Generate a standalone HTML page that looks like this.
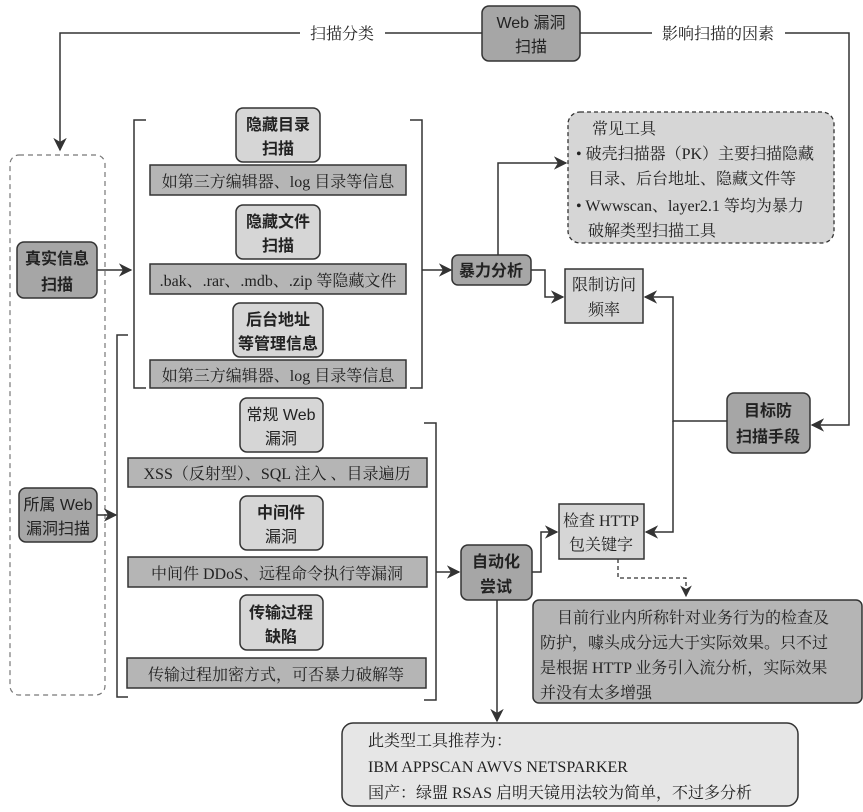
<!DOCTYPE html>
<html><head><meta charset="utf-8"><style>
body{margin:0;background:#fff}
svg{display:block}
.s{font-family:"Liberation Sans","Noto Sans CJK SC",sans-serif;font-size:16px;fill:#222}
.b{font-weight:bold}
.r{font-family:"Liberation Serif","Noto Serif CJK SC",serif;font-size:16px;fill:#222}
.ln{stroke:#333;stroke-width:1.5;fill:none}
.dk{fill:#a6a6a6;stroke:#333;stroke-width:1.5}
.lt{fill:#d6d6d6;stroke:#333;stroke-width:1.5}
.gr{fill:#b5b5b5;stroke:#333;stroke-width:1.5}
</style></head><body>
<svg width="863" height="812" viewBox="0 0 863 812" xmlns="http://www.w3.org/2000/svg">
<defs><marker id="a" viewBox="0 0 10 10" refX="9" refY="5" markerWidth="9" markerHeight="9" orient="auto"><path d="M0,0 L10,5 L0,10 L3,5 z" fill="#333"/></marker></defs>

<!-- top -->
<rect class="dk" x="482" y="6" width="98" height="55" rx="7"/>
<text class="s" x="531" y="28" text-anchor="middle">Web 漏洞</text>
<text class="s" x="531" y="52" text-anchor="middle">扫描</text>
<path class="ln" d="M482,33 H385 M300,33 H60 V150" marker-end="url(#a)"/>
<text class="r" x="342" y="39" text-anchor="middle">扫描分类</text>
<path class="ln" d="M580,33 H652 M785,33 H849 V425 H812" marker-end="url(#a)"/>
<text class="r" x="718" y="39" text-anchor="middle">影响扫描的因素</text>

<!-- dashed left -->
<rect x="10" y="155" width="95" height="540" rx="9" fill="none" stroke="#777" stroke-width="1.2" stroke-dasharray="5,4"/>
<rect class="dk" x="17" y="242" width="80" height="56" rx="7"/>
<text class="s b" x="57" y="264" text-anchor="middle">真实信息</text>
<text class="s b" x="57" y="290" text-anchor="middle">扫描</text>
<path class="ln" d="M97,270 H131" marker-end="url(#a)"/>
<rect class="dk" x="19" y="488" width="78" height="54" rx="7"/>
<text class="s" x="58" y="510" text-anchor="middle">所属 Web</text>
<text class="s" x="58" y="534" text-anchor="middle">漏洞扫描</text>
<path class="ln" d="M97,515 H116" marker-end="url(#a)"/>

<!-- bracket 1 -->
<path class="ln" d="M146,120 H134 V388 H146 M410,120 H422 V388 H410"/>
<rect class="lt" x="236" y="108" width="84" height="54" rx="7"/>
<text class="s b" x="278" y="130" text-anchor="middle">隐藏目录</text>
<text class="s b" x="278" y="154" text-anchor="middle">扫描</text>
<rect class="gr" x="150" y="165" width="256" height="30"/>
<text class="r" x="278" y="187" text-anchor="middle">如第三方编辑器、log 目录等信息</text>
<rect class="lt" x="236" y="205" width="84" height="54" rx="7"/>
<text class="s b" x="278" y="227" text-anchor="middle">隐藏文件</text>
<text class="s b" x="278" y="251" text-anchor="middle">扫描</text>
<rect class="gr" x="150" y="264" width="256" height="30"/>
<text class="r" x="278" y="286" text-anchor="middle">.bak、.rar、.mdb、.zip 等隐藏文件</text>
<rect class="lt" x="233" y="303" width="90" height="54" rx="7"/>
<text class="s b" x="278" y="325" text-anchor="middle">后台地址</text>
<text class="s b" x="278" y="349" text-anchor="middle">等管理信息</text>
<rect class="gr" x="150" y="360" width="256" height="28"/>
<text class="r" x="278" y="381" text-anchor="middle">如第三方编辑器、log 目录等信息</text>
<path class="ln" d="M422,270 H451" marker-end="url(#a)"/>

<!-- 暴力分析 -->
<rect class="dk" x="452" y="255" width="79" height="30" rx="6"/>
<text class="s b" x="491" y="276" text-anchor="middle">暴力分析</text>
<path class="ln" d="M498,255 V163 H566" marker-end="url(#a)"/>
<rect x="568" y="112" width="266" height="131" rx="12" fill="#d6d6d6" stroke="#333" stroke-width="1.3" stroke-dasharray="4,3"/>
<text class="r" x="592" y="134">常见工具</text>
<text class="r" x="576" y="159">• 破壳扫描器（PK）主要扫描隐藏</text>
<text class="r" x="588" y="184">目录、后台地址、隐藏文件等</text>
<text class="r" x="576" y="211">• Wwwscan、layer2.1 等均为暴力</text>
<text class="r" x="588" y="236">破解类型扫描工具</text>
<path class="ln" d="M531,270 H545 V297 H563" marker-end="url(#a)"/>
<rect class="lt" x="565" y="269" width="78" height="54"/>
<text class="r" x="604" y="290" text-anchor="middle">限制访问</text>
<text class="r" x="604" y="315" text-anchor="middle">频率</text>
<rect class="dk" x="727" y="393" width="83" height="60" rx="7"/>
<text class="s b" x="768" y="416" text-anchor="middle">目标防</text>
<text class="s b" x="768" y="442" text-anchor="middle">扫描手段</text>
<path class="ln" d="M727,421 H673 V297 H645" marker-end="url(#a)"/>
<path class="ln" d="M673,421 V532 H646" marker-end="url(#a)"/>

<!-- bracket 2 -->
<path class="ln" d="M128,335 H117 V697 H128 M424,423 H436 V700 H424"/>
<rect class="lt" x="240" y="398" width="83" height="54" rx="7"/>
<text class="s" x="281" y="420" text-anchor="middle">常规 Web</text>
<text class="s" x="281" y="444" text-anchor="middle">漏洞</text>
<rect class="gr" x="128" y="458" width="299" height="29"/>
<text class="r" x="277" y="479" text-anchor="middle">XSS（反射型）、SQL 注入 、目录遍历</text>
<rect class="lt" x="240" y="496" width="83" height="54" rx="7"/>
<text class="s b" x="281" y="518" text-anchor="middle">中间件</text>
<text class="s" x="281" y="542" text-anchor="middle">漏洞</text>
<rect class="gr" x="128" y="557" width="299" height="30"/>
<text class="r" x="277" y="579" text-anchor="middle">中间件 DDoS、远程命令执行等漏洞</text>
<rect class="lt" x="240" y="595" width="83" height="55" rx="7"/>
<text class="s b" x="281" y="618" text-anchor="middle">传输过程</text>
<text class="s b" x="281" y="642" text-anchor="middle">缺陷</text>
<rect class="gr" x="127" y="658" width="299" height="30"/>
<text class="r" x="276" y="680" text-anchor="middle">传输过程加密方式，可否暴力破解等</text>
<path class="ln" d="M436,572 H459" marker-end="url(#a)"/>

<rect class="dk" x="461" y="545" width="71" height="55" rx="7"/>
<text class="s b" x="496" y="567" text-anchor="middle">自动化</text>
<text class="s b" x="496" y="592" text-anchor="middle">尝试</text>
<path class="ln" d="M532,572 H541 V532 H557" marker-end="url(#a)"/>
<rect class="lt" x="559" y="504" width="85" height="55"/>
<text class="r" x="601" y="526" text-anchor="middle">检查 HTTP</text>
<text class="r" x="601" y="550" text-anchor="middle">包关键字</text>
<path d="M618,559 V578 H686 V596" fill="none" stroke="#333" stroke-width="1.3" stroke-dasharray="4,3" marker-end="url(#a)"/>
<rect class="gr" x="533" y="600" width="329" height="103" rx="6"/>
<text class="r" x="557" y="623">目前行业内所称针对业务行为的检查及</text>
<text class="r" x="540" y="648">防护，噱头成分远大于实际效果。只不过</text>
<text class="r" x="540" y="673">是根据 HTTP 业务引入流分析，实际效果</text>
<text class="r" x="540" y="698">并没有太多增强</text>
<path class="ln" d="M497,600 V721" marker-end="url(#a)"/>
<rect x="342" y="723" width="456" height="83" rx="11" fill="#e6e6e6" stroke="#333" stroke-width="1.5"/>
<text class="r" x="368" y="746">此类型工具推荐为：</text>
<text class="r" x="368" y="772">IBM APPSCAN AWVS NETSPARKER</text>
<text class="r" x="368" y="798">国产：绿盟 RSAS 启明天镜用法较为简单，不过多分析</text>
</svg>
</body></html>
